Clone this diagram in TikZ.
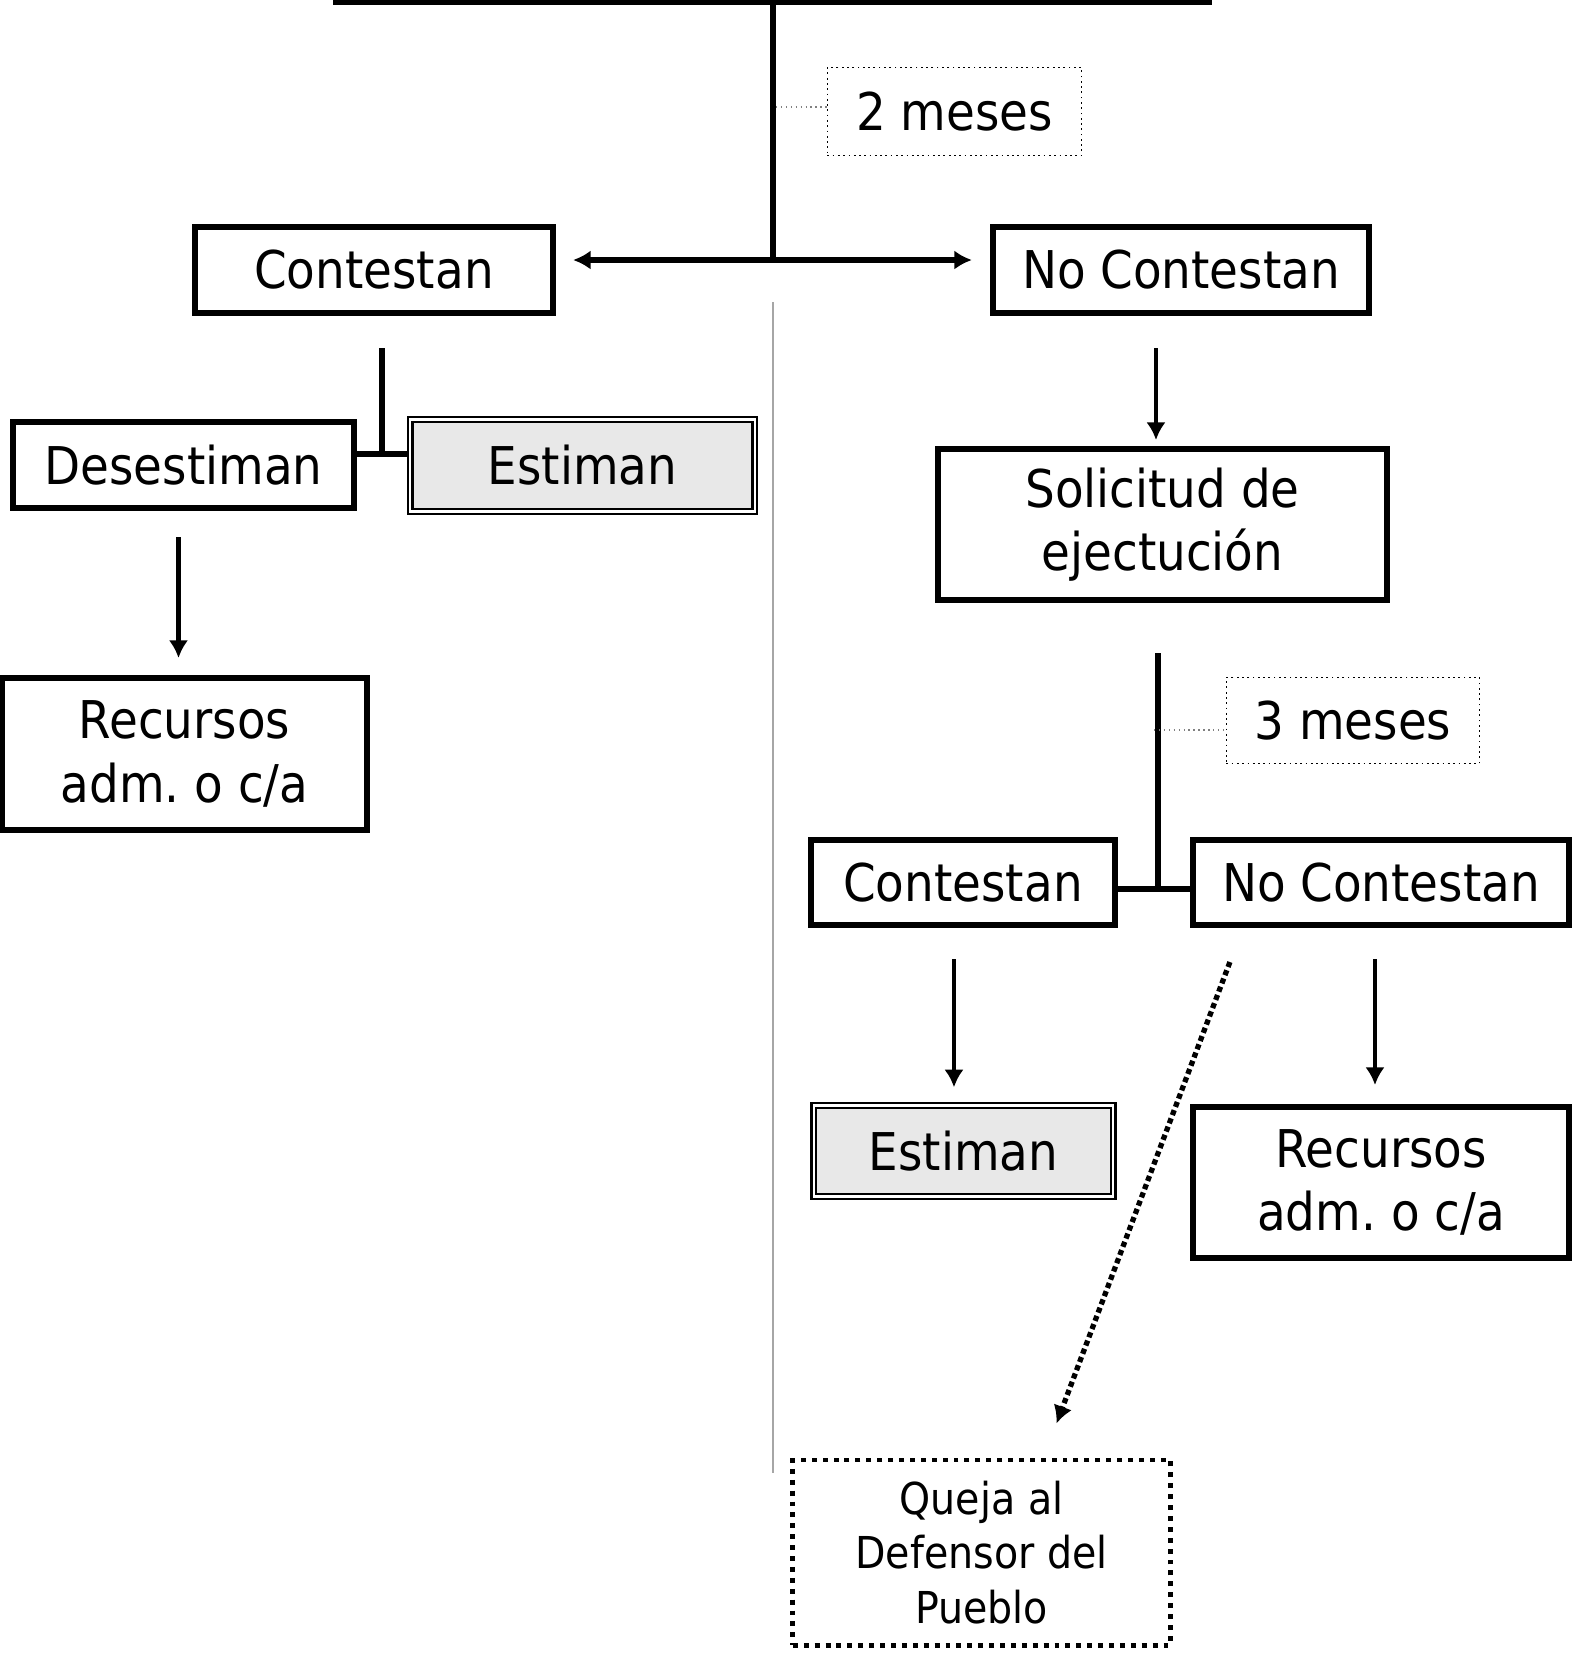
\documentclass[tikz,border=0pt]{standalone}
\usepackage{fontspec}
\setmainfont{DejaVu Sans}[FakeStretch=0.9]
\usepackage{tikz}
\usetikzlibrary{arrows.meta}
\frenchspacing
\tikzstyle{arrow} = [line width=1.4pt, -{Latex[length=5pt,width=5.5pt]}]
\tikzstyle{link} = [line width=1.7pt]
\tikzstyle{decision} = [
    rectangle, draw=black, line width=1.7pt, inner sep=0pt, align=center,
    font=\fontsize{14.8}{18}\selectfont]
\tikzstyle{granted} = [
    decision, line width=0.7pt, double=white, double distance=0.6pt, fill=gray!18]
\tikzstyle{term} = [
    rectangle, draw=black, line width=0.5pt, densely dotted, inner sep=0pt,
    font=\fontsize{14.8}{18}\selectfont]
\tikzstyle{complaint} = [
    rectangle, draw=black, line width=1.4pt, dash pattern=on 1.4pt off 1.7pt,
    inner sep=0pt, align=center, font=\fontsize{12.5}{15.4}\selectfont]
\tikzstyle{leader} = [line width=0.4pt, densely dotted, gray]
\tikzstyle{hint} = [line width=1.5pt, dash pattern=on 1.5pt off 1pt, -{Latex[length=5pt,width=5.5pt]}]
\tikzstyle{divider} = [line width=0.3pt, gray!70]

\begin{document}
\begin{tikzpicture}[x=0.01cm, y=-0.01cm]
\useasboundingbox (0,0) rectangle (1577,1659);

\coordinate (bar-left) at (333,0);
\coordinate (bar-right) at (1212,0);
\coordinate (bar-mid) at (773,0);
\coordinate (split) at (773,260);
\coordinate (stub-2m) at (776,107);
\coordinate (div-top) at (773,302);
\coordinate (div-bottom) at (773,1473);
\coordinate (fork-left) at (382,454);
\coordinate (fork-right) at (1158,889);
\coordinate (stub-3m) at (1154,730);

% first answer
\node (meses-2) [term, minimum width=2.54cm, minimum height=0.88cm] at (954.5,111.5) {2 meses};
\node (contestan-1) [decision, minimum width=3.58cm, minimum height=0.86cm] at (374,270) {Contestan};
\node (no-contestan-1) [decision, minimum width=3.76cm, minimum height=0.86cm] at (1181,270) {No Contestan};

% left branch
\node (desestiman) [decision, minimum width=3.41cm, minimum height=0.86cm] at (183.5,465) {Desestiman};
\node (estiman-1) [granted, minimum width=3.44cm, minimum height=0.92cm] at (582.5,465.5) {Estiman};
\node (recursos-1) [decision, minimum width=3.65cm, minimum height=1.52cm] at (184.5,754) {
    Recursos \\
    adm. o c/a
};

% right branch
\node (solicitud) [decision, minimum width=4.49cm, minimum height=1.51cm] at (1162.5,524.5) {
    Solicitud de \\
    ejectución
};
\node (meses-3) [term, minimum width=2.53cm, minimum height=0.86cm] at (1353,720.5) {3 meses};
\node (contestan-2) [decision, minimum width=3.04cm, minimum height=0.85cm] at (963,882.5) {Contestan};
\node (no-contestan-2) [decision, minimum width=3.76cm, minimum height=0.85cm] at (1381,882.5) {No Contestan};
\node (estiman-2) [granted, minimum width=2.99cm, minimum height=0.91cm] at (963.5,1151) {Estiman};
\node (recursos-2) [decision, minimum width=3.76cm, minimum height=1.51cm] at (1381,1182.5) {
    Recursos \\
    adm. o c/a
};
\node (queja) [complaint, minimum width=3.77cm, minimum height=1.85cm] at (981.5,1552.5) {
    Queja al \\
    Defensor del \\
    Pueblo
};

\coordinate (hint-start) at ([shift={(40,34)}]no-contestan-2.south west);
\coordinate (hint-end) at ([shift={(75,-34)}]queja.north);

\draw [divider] (div-top) -- (div-bottom);
\draw [link, line width=2.6pt] (bar-left) -- (bar-right);
\draw [link] (bar-mid) -- (split);
\draw [leader] (stub-2m) -- (stub-2m -| meses-2.west);
\draw [arrow, line width=1.7pt, shorten >=0.17cm] (split) -- (split -| contestan-1.east);
\draw [arrow, line width=1.7pt, shorten >=0.18cm] (split) -- (split -| no-contestan-1.west);

\draw [link, shorten <=0.32cm] (fork-left |- contestan-1.south) -- (fork-left);
\draw [link] (desestiman.east |- fork-left) -- (estiman-1.west |- fork-left);
\draw [arrow, shorten <=0.26cm, shorten >=0.17cm] ([xshift=-0.05cm]desestiman.south) -- ([xshift=-0.05cm]desestiman.south |- recursos-1.north);

\draw [arrow, shorten <=0.32cm, shorten >=0.06cm] ([xshift=-0.065cm]solicitud.north |- no-contestan-1.south) -- ([xshift=-0.065cm]solicitud.north);
\draw [link, shorten <=0.5cm] (fork-right |- solicitud.south) -- (fork-right);
\draw [leader] (stub-3m) -- (stub-3m -| meses-3.west);
\draw [link] (contestan-2.east |- fork-right) -- (no-contestan-2.west |- fork-right);
\draw [arrow, shorten <=0.31cm, shorten >=0.17cm] ([xshift=-0.09cm]contestan-2.south) -- ([xshift=-0.09cm]contestan-2.south |- estiman-2.north);
\draw [arrow, shorten <=0.31cm, shorten >=0.19cm] ([xshift=-0.06cm]no-contestan-2.south) -- ([xshift=-0.06cm]no-contestan-2.south |- recursos-2.north);
\draw [hint] (hint-start) -- (hint-end);
\end{tikzpicture}
\end{document}
